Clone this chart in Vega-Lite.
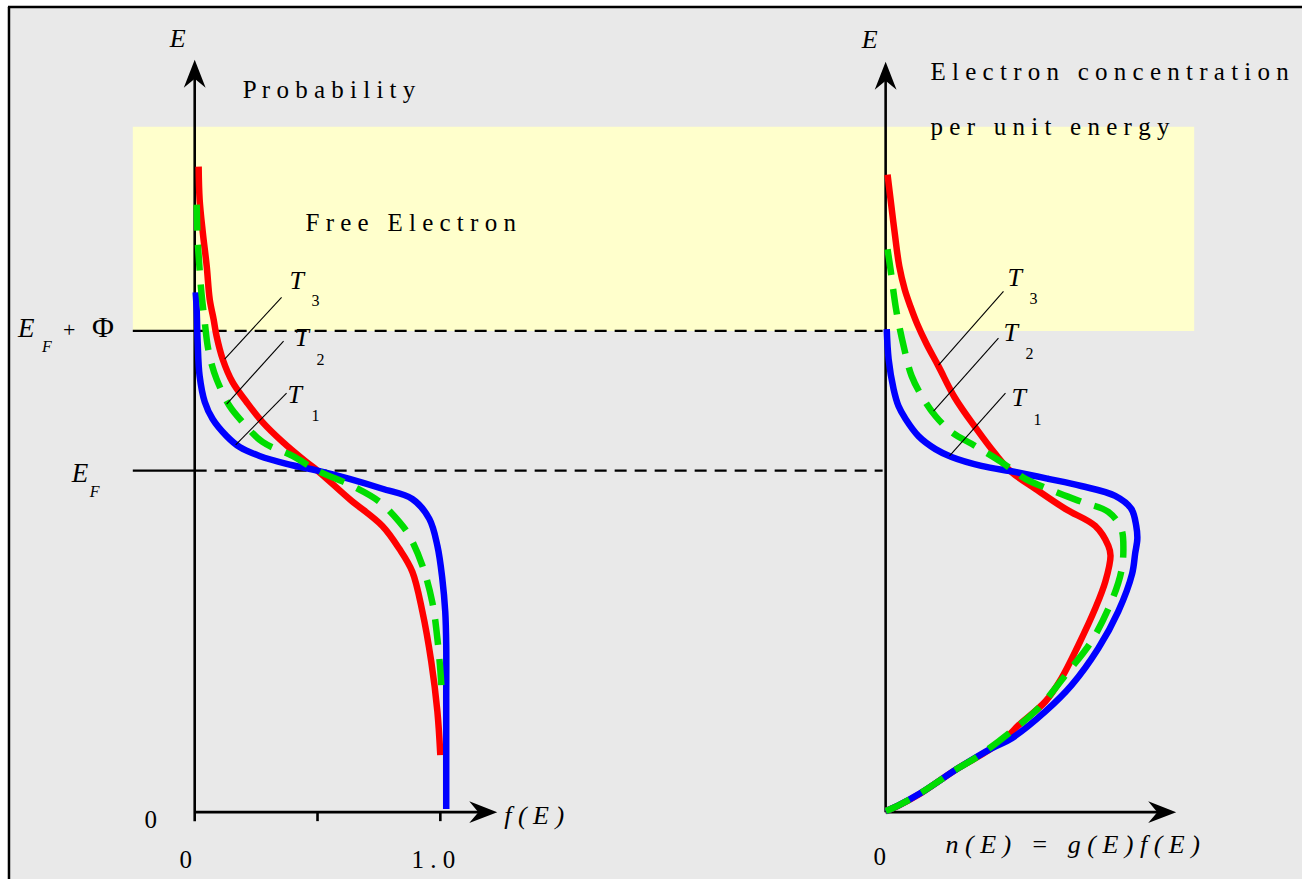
{
  "$schema": "https://vega.github.io/schema/vega-lite/v6.json",
  "width": 1304,
  "height": 881,
  "autosize": {"type": "fit", "contains": "padding"},
  "padding": 0,
  "background": "#ffffff",
  "config": {"view": {"stroke": null}, "font": "Liberation Serif", "text": {"font": "Liberation Serif", "color": "#000000"}},
  "datasets": {
    "left": [
      {"T":"T1","f":0.004,"E":1.522},{"T":"T1","f":0.008,"E":1.472},{"T":"T1","f":0.012,"E":1.376},{"T":"T1","f":0.020,"E":1.277},{"T":"T1","f":0.041,"E":1.201},{"T":"T1","f":0.073,"E":1.151},{"T":"T1","f":0.130,"E":1.101},{"T":"T1","f":0.183,"E":1.069},{"T":"T1","f":0.264,"E":1.043},{"T":"T1","f":0.374,"E":1.020},{"T":"T1","f":0.5,"E":1.0},{"T":"T1","f":0.630,"E":0.976},{"T":"T1","f":0.764,"E":0.947},{"T":"T1","f":0.886,"E":0.917},{"T":"T1","f":0.955,"E":0.859},{"T":"T1","f":0.988,"E":0.780},{"T":"T1","f":1.008,"E":0.684},{"T":"T1","f":1.020,"E":0.587},{"T":"T1","f":1.024,"E":0.488},{"T":"T1","f":1.024,"E":0.333},{"T":"T1","f":1.024,"E":0.158},{"T":"T1","f":1.024,"E":0.009},
      {"T":"T2","f":0.008,"E":1.779},{"T":"T2","f":0.012,"E":1.677},{"T":"T2","f":0.020,"E":1.589},{"T":"T2","f":0.028,"E":1.516},{"T":"T2","f":0.041,"E":1.434},{"T":"T2","f":0.053,"E":1.364},{"T":"T2","f":0.069,"E":1.312},{"T":"T2","f":0.089,"E":1.268},{"T":"T2","f":0.142,"E":1.189},{"T":"T2","f":0.195,"E":1.142},{"T":"T2","f":0.276,"E":1.084},{"T":"T2","f":0.398,"E":1.043},{"T":"T2","f":0.5,"E":1.0},{"T":"T2","f":0.642,"E":0.955},{"T":"T2","f":0.752,"E":0.909},{"T":"T2","f":0.833,"E":0.850},{"T":"T2","f":0.874,"E":0.809},{"T":"T2","f":0.927,"E":0.722},{"T":"T2","f":0.967,"E":0.616},{"T":"T2","f":0.988,"E":0.508},{"T":"T2","f":1.004,"E":0.371},{"T":"T2","f":1.004,"E":0.339},
      {"T":"T3","f":0.016,"E":1.890},{"T":"T3","f":0.020,"E":1.794},{"T":"T3","f":0.033,"E":1.697},{"T":"T3","f":0.049,"E":1.598},{"T":"T3","f":0.061,"E":1.502},{"T":"T3","f":0.077,"E":1.443},{"T":"T3","f":0.089,"E":1.394},{"T":"T3","f":0.114,"E":1.326},{"T":"T3","f":0.154,"E":1.259},{"T":"T3","f":0.211,"E":1.201},{"T":"T3","f":0.276,"E":1.142},{"T":"T3","f":0.358,"E":1.084},{"T":"T3","f":0.455,"E":1.025},{"T":"T3","f":0.5,"E":1.0},{"T":"T3","f":0.630,"E":0.917},{"T":"T3","f":0.764,"E":0.838},{"T":"T3","f":0.833,"E":0.771},{"T":"T3","f":0.886,"E":0.704},{"T":"T3","f":0.927,"E":0.587},{"T":"T3","f":0.963,"E":0.441},{"T":"T3","f":0.988,"E":0.295},{"T":"T3","f":1.0,"E":0.167}
    ],
    "right": [
      {"T":"T1","n":0.004,"E":1.414},{"T":"T1","n":0.011,"E":1.326},{"T":"T1","n":0.029,"E":1.239},{"T":"T1","n":0.047,"E":1.189},{"T":"T1","n":0.073,"E":1.151},{"T":"T1","n":0.120,"E":1.101},{"T":"T1","n":0.182,"E":1.063},{"T":"T1","n":0.241,"E":1.040},{"T":"T1","n":0.350,"E":1.014},{"T":"T1","n":0.474,"E":0.996},{"T":"T1","n":0.595,"E":0.976},{"T":"T1","n":0.715,"E":0.955},{"T":"T1","n":0.839,"E":0.926},{"T":"T1","n":0.898,"E":0.888},{"T":"T1","n":0.916,"E":0.838},{"T":"T1","n":0.920,"E":0.800},{"T":"T1","n":0.912,"E":0.757},{"T":"T1","n":0.901,"E":0.698},{"T":"T1","n":0.850,"E":0.587},{"T":"T1","n":0.777,"E":0.479},{"T":"T1","n":0.679,"E":0.371},{"T":"T1","n":0.584,"E":0.295},{"T":"T1","n":0.460,"E":0.216},{"T":"T1","n":0.387,"E":0.187},{"T":"T1","n":0.266,"E":0.129},{"T":"T1","n":0.128,"E":0.056},{"T":"T1","n":0.047,"E":0.020},{"T":"T1","n":0.0,"E":0.003},
      {"T":"T2","n":0.007,"E":1.648},{"T":"T2","n":0.018,"E":1.589},{"T":"T2","n":0.029,"E":1.522},{"T":"T2","n":0.040,"E":1.464},{"T":"T2","n":0.066,"E":1.364},{"T":"T2","n":0.095,"E":1.277},{"T":"T2","n":0.139,"E":1.209},{"T":"T2","n":0.182,"E":1.160},{"T":"T2","n":0.241,"E":1.113},{"T":"T2","n":0.328,"E":1.072},{"T":"T2","n":0.423,"E":1.025},{"T":"T2","n":0.474,"E":0.996},{"T":"T2","n":0.511,"E":0.976},{"T":"T2","n":0.620,"E":0.938},{"T":"T2","n":0.715,"E":0.909},{"T":"T2","n":0.814,"E":0.879},{"T":"T2","n":0.861,"E":0.830},{"T":"T2","n":0.869,"E":0.771},{"T":"T2","n":0.861,"E":0.704},{"T":"T2","n":0.825,"E":0.616},{"T":"T2","n":0.752,"E":0.500},{"T":"T2","n":0.668,"E":0.412},{"T":"T2","n":0.558,"E":0.304},{"T":"T2","n":0.460,"E":0.237},{"T":"T2","n":0.339,"E":0.164},{"T":"T2","n":0.266,"E":0.129},{"T":"T2","n":0.128,"E":0.056},{"T":"T2","n":0.047,"E":0.020},{"T":"T2","n":0.0,"E":0.003},
      {"T":"T3","n":0.007,"E":1.867},{"T":"T3","n":0.018,"E":1.794},{"T":"T3","n":0.033,"E":1.697},{"T":"T3","n":0.050,"E":1.598},{"T":"T3","n":0.070,"E":1.530},{"T":"T3","n":0.091,"E":1.480},{"T":"T3","n":0.115,"E":1.430},{"T":"T3","n":0.150,"E":1.370},{"T":"T3","n":0.193,"E":1.306},{"T":"T3","n":0.252,"E":1.215},{"T":"T3","n":0.332,"E":1.122},{"T":"T3","n":0.401,"E":1.049},{"T":"T3","n":0.460,"E":0.996},{"T":"T3","n":0.547,"E":0.947},{"T":"T3","n":0.657,"E":0.888},{"T":"T3","n":0.766,"E":0.838},{"T":"T3","n":0.814,"E":0.780},{"T":"T3","n":0.822,"E":0.751},{"T":"T3","n":0.803,"E":0.675},{"T":"T3","n":0.766,"E":0.596},{"T":"T3","n":0.704,"E":0.488},{"T":"T3","n":0.642,"E":0.391},{"T":"T3","n":0.584,"E":0.324},{"T":"T3","n":0.485,"E":0.254},{"T":"T3","n":0.449,"E":0.225},{"T":"T3","n":0.376,"E":0.181},{"T":"T3","n":0.259,"E":0.126},{"T":"T3","n":0.124,"E":0.053},{"T":"T3","n":0.044,"E":0.018},{"T":"T3","n":0.0,"E":0.003}
    ]
  },
  "encoding": {
    "y": {"field": "E", "type": "quantitative", "scale": {"domain": [-0.1957, 2.378], "nice": false, "zero": false}, "axis": null}
  },
  "resolve": {"scale": {"x": "independent"}},
  "layer": [
    {
      "encoding": {"x": {"field": "u", "type": "quantitative", "scale": {"domain": [0, 1], "nice": false, "zero": false}, "axis": null}},
      "layer": [
        {
          "data": {"values": [{"u": 0.0069, "u2": 1, "E": -0.1957, "E2": 2.3576}]},
          "mark": {"type": "rect", "color": "#e9e9e9"},
          "encoding": {"x2": {"field": "u2"}, "y2": {"field": "E2"}}
        },
        {
          "data": {"values": [{"u": 0.102, "u2": 0.9172, "E": 1.409, "E2": 2.007}]},
          "mark": {"type": "rect", "color": "#ffffcc"},
          "encoding": {"x2": {"field": "u2"}, "y2": {"field": "E2"}}
        },
        {
          "data": {"values": [
            {"u": 0.0061, "u2": 1, "E": 2.3576, "E2": 2.3576},
            {"u": 0.0069, "u2": 0.0069, "E": -0.1957, "E2": 2.3576}
          ]},
          "mark": {"type": "rule", "color": "#000000", "strokeWidth": 2.5},
          "encoding": {"x2": {"field": "u2"}, "y2": {"field": "E2"}}
        },
        {
          "data": {"values": [
            {"u": 0.102, "u2": 0.1495, "E": 1.0, "E2": 1.0},
            {"u": 0.102, "u2": 0.1495, "E": 1.409, "E2": 1.409}
          ]},
          "mark": {"type": "rule", "color": "#000000", "strokeWidth": 2.2},
          "encoding": {"x2": {"field": "u2"}, "y2": {"field": "E2"}}
        },
        {
          "data": {"values": [
            {"u": 0.1495, "u2": 0.6779, "E": 1.0, "E2": 1.0},
            {"u": 0.1495, "u2": 0.6779, "E": 1.409, "E2": 1.409}
          ]},
          "mark": {"type": "rule", "color": "#000000", "strokeWidth": 2.2, "strokeDash": [12, 8]},
          "encoding": {"x2": {"field": "u2"}, "y2": {"field": "E2"}}
        },
        {
          "data": {"values": [{"t": "E", "u": 0.0138, "E": 1.3906}, {"t": "E", "u": 0.0552, "E": 0.967}]},
          "mark": {"type": "text", "font": "Liberation Serif", "align": "left", "baseline": "alphabetic", "fontSize": 27, "fontStyle": "italic"},
          "encoding": {"text": {"field": "t"}}
        },
        {
          "data": {"values": [{"t": "F", "u": 0.0322, "E": 1.3468}, {"t": "F", "u": 0.069, "E": 0.9232}]},
          "mark": {"type": "text", "font": "Liberation Serif", "align": "left", "baseline": "alphabetic", "fontSize": 16, "fontStyle": "italic"},
          "encoding": {"text": {"field": "t"}}
        },
        {
          "data": {"values": [{"t": "+", "u": 0.0483, "E": 1.3906}]},
          "mark": {"type": "text", "font": "Liberation Serif", "align": "left", "baseline": "alphabetic", "fontSize": 22},
          "encoding": {"text": {"field": "t"}}
        },
        {
          "data": {"values": [{"t": "Φ", "u": 0.0706, "E": 1.3906}]},
          "mark": {"type": "text", "font": "Liberation Serif", "align": "left", "baseline": "alphabetic", "fontSize": 30},
          "encoding": {"text": {"field": "t"}}
        },
        {
          "data": {"values": [{"t": "0", "u": 0.1158, "E": -0.0467}]},
          "mark": {"type": "text", "font": "Liberation Serif", "align": "center", "baseline": "alphabetic", "fontSize": 25},
          "encoding": {"text": {"field": "t"}}
        }
      ]
    },
    {
      "encoding": {"x": {"field": "f", "type": "quantitative", "scale": {"domain": [-0.7927, 4.5081], "nice": false, "zero": false}, "axis": null}},
      "layer": [
        {
          "data": {"values": [
            {"f": 0, "f2": 0, "E": -0.0263, "E2": 2.159},
            {"f": 0, "f2": 1.1707, "E": 0, "E2": 0},
            {"f": 0.5, "f2": 0.5, "E": 0, "E2": -0.0263},
            {"f": 1.0, "f2": 1.0, "E": 0, "E2": -0.0263}
          ]},
          "mark": {"type": "rule", "color": "#000000", "strokeWidth": 2.6},
          "encoding": {"x2": {"field": "f2"}, "y2": {"field": "E2"}}
        },
        {
          "data": {"values": [{"f": 0, "E": 2.2028}]},
          "mark": {"type": "point", "shape": "M0,0L0.78,2L0,1.35L-0.78,2Z", "filled": true, "size": 784, "color": "#000000", "opacity": 1, "strokeWidth": 0},
          "encoding": {}
        },
        {
          "data": {"values": [{"f": 1.2317, "E": 0}]},
          "mark": {"type": "point", "shape": "M0,0L-2,0.78L-1.35,0L-2,-0.78Z", "filled": true, "size": 784, "color": "#000000", "opacity": 1, "strokeWidth": 0},
          "encoding": {}
        },
        {
          "data": {"name": "left"},
          "transform": [{"filter": "datum.T == 'T3'"}],
          "mark": {"type": "line", "color": "#ff0000", "strokeWidth": 6.5, "strokeJoin": "round", "interpolate": "catmull-rom"},
          "encoding": {"order": {"value": null}}
        },
        {
          "data": {"name": "left"},
          "transform": [{"filter": "datum.T == 'T1'"}],
          "mark": {"type": "line", "color": "#0000ff", "strokeWidth": 6.5, "strokeJoin": "round", "interpolate": "catmull-rom"},
          "encoding": {"order": {"value": null}}
        },
        {
          "data": {"name": "left"},
          "transform": [{"filter": "datum.T == 'T2'"}],
          "mark": {"type": "line", "color": "#00dd00", "strokeWidth": 6.5, "strokeJoin": "round", "strokeDash": [26, 14], "interpolate": "catmull-rom"},
          "encoding": {"order": {"value": null}}
        },
        {
          "data": {"values": [
            {"f": 0.3537, "f2": 0.122, "E": 1.5075, "E2": 1.3263},
            {"f": 0.3618, "f2": 0.1301, "E": 1.3789, "E2": 1.1949},
            {"f": 0.374, "f2": 0.1667, "E": 1.227, "E2": 1.0751}
          ]},
          "mark": {"type": "rule", "color": "#000000", "strokeWidth": 1.1},
          "encoding": {"x2": {"field": "f2"}, "y2": {"field": "E2"}}
        },
        {
          "data": {"values": [
            {"t": "P r o b a b i l i t y", "f": 0.1951, "E": 2.0917},
            {"t": "F r e e \u00a0 E l e c t r o n", "f": 0.4512, "E": 1.7003}
          ]},
          "mark": {"type": "text", "font": "Liberation Serif", "align": "left", "baseline": "alphabetic", "fontSize": 25},
          "encoding": {"text": {"field": "t"}}
        },
        {
          "data": {"values": [
            {"t": "E", "f": -0.1016, "E": 2.2407},
            {"t": "T", "f": 0.3862, "E": 1.5308},
            {"t": "T", "f": 0.4065, "E": 1.3643},
            {"t": "T", "f": 0.378, "E": 1.1978},
            {"t": "f ( E )", "f": 1.2602, "E": -0.0351}
          ]},
          "mark": {"type": "text", "font": "Liberation Serif", "align": "left", "baseline": "alphabetic", "fontSize": 26, "fontStyle": "italic"},
          "encoding": {"text": {"field": "t"}}
        },
        {
          "data": {"values": [
            {"t": "3", "f": 0.4756, "E": 1.4812},
            {"t": "2", "f": 0.4959, "E": 1.3088},
            {"t": "1", "f": 0.4756, "E": 1.1452}
          ]},
          "mark": {"type": "text", "font": "Liberation Serif", "align": "left", "baseline": "alphabetic", "fontSize": 16},
          "encoding": {"text": {"field": "t"}}
        },
        {
          "data": {"values": [
            {"t": "0", "f": -0.0366, "E": -0.1636},
            {"t": "1 . 0", "f": 0.9715, "E": -0.1636}
          ]},
          "mark": {"type": "text", "font": "Liberation Serif", "align": "center", "baseline": "alphabetic", "fontSize": 25},
          "encoding": {"text": {"field": "t"}}
        }
      ]
    },
    {
      "encoding": {"x": {"field": "n", "type": "quantitative", "scale": {"domain": [-3.2372, 1.5219], "nice": false, "zero": false}, "axis": null}},
      "layer": [
        {
          "data": {"values": [
            {"n": 0, "n2": 0, "E": 0, "E2": 2.153},
            {"n": 0, "n2": 1.0073, "E": 0, "E2": 0}
          ]},
          "mark": {"type": "rule", "color": "#000000", "strokeWidth": 2.6},
          "encoding": {"x2": {"field": "n2"}, "y2": {"field": "E2"}}
        },
        {
          "data": {"values": [{"n": 0, "E": 2.197}]},
          "mark": {"type": "point", "shape": "M0,0L0.78,2L0,1.35L-0.78,2Z", "filled": true, "size": 784, "color": "#000000", "opacity": 1, "strokeWidth": 0},
          "encoding": {}
        },
        {
          "data": {"values": [{"n": 1.062, "E": 0}]},
          "mark": {"type": "point", "shape": "M0,0L-2,0.78L-1.35,0L-2,-0.78Z", "filled": true, "size": 784, "color": "#000000", "opacity": 1, "strokeWidth": 0},
          "encoding": {}
        },
        {
          "data": {"name": "right"},
          "transform": [{"filter": "datum.T == 'T3'"}],
          "mark": {"type": "line", "color": "#ff0000", "strokeWidth": 6.5, "strokeJoin": "round", "interpolate": "catmull-rom"},
          "encoding": {"order": {"value": null}}
        },
        {
          "data": {"name": "right"},
          "transform": [{"filter": "datum.T == 'T1'"}],
          "mark": {"type": "line", "color": "#0000ff", "strokeWidth": 6.5, "strokeJoin": "round", "interpolate": "catmull-rom"},
          "encoding": {"order": {"value": null}}
        },
        {
          "data": {"name": "right"},
          "transform": [{"filter": "datum.T == 'T2'"}],
          "mark": {"type": "line", "color": "#00dd00", "strokeWidth": 6.5, "strokeJoin": "round", "strokeDash": [26, 14], "interpolate": "catmull-rom"},
          "encoding": {"order": {"value": null}}
        },
        {
          "data": {"values": [
            {"n": 0.4307, "n2": 0.1934, "E": 1.525, "E2": 1.3088},
            {"n": 0.4124, "n2": 0.1752, "E": 1.3877, "E2": 1.1744},
            {"n": 0.438, "n2": 0.2336, "E": 1.227, "E2": 1.043}
          ]},
          "mark": {"type": "rule", "color": "#000000", "strokeWidth": 1.1},
          "encoding": {"x2": {"field": "n2"}, "y2": {"field": "E2"}}
        },
        {
          "data": {"values": [
            {"t": "E l e c t r o n \u00a0 c o n c e n t r a t i o n", "n": 0.1642, "E": 2.1443},
            {"t": "p e r \u00a0 u n i t \u00a0 e n e r g y", "n": 0.1642, "E": 1.9836}
          ]},
          "mark": {"type": "text", "font": "Liberation Serif", "align": "left", "baseline": "alphabetic", "fontSize": 25},
          "encoding": {"text": {"field": "t"}}
        },
        {
          "data": {"values": [
            {"t": "E", "n": -0.0876, "E": 2.2378},
            {"t": "T", "n": 0.4453, "E": 1.5396},
            {"t": "T", "n": 0.4307, "E": 1.3789},
            {"t": "T", "n": 0.4599, "E": 1.189},
            {"t": "n ( E ) \u00a0 = \u00a0 g ( E ) f ( E )", "n": 0.219, "E": -0.1198}
          ]},
          "mark": {"type": "text", "font": "Liberation Serif", "align": "left", "baseline": "alphabetic", "fontSize": 26, "fontStyle": "italic"},
          "encoding": {"text": {"field": "t"}}
        },
        {
          "data": {"values": [
            {"t": "3", "n": 0.5255, "E": 1.487},
            {"t": "2", "n": 0.5109, "E": 1.3263},
            {"t": "1", "n": 0.5401, "E": 1.1335}
          ]},
          "mark": {"type": "text", "font": "Liberation Serif", "align": "left", "baseline": "alphabetic", "fontSize": 16},
          "encoding": {"text": {"field": "t"}}
        },
        {
          "data": {"values": [{"t": "0", "n": -0.0219, "E": -0.1548}]},
          "mark": {"type": "text", "font": "Liberation Serif", "align": "center", "baseline": "alphabetic", "fontSize": 25},
          "encoding": {"text": {"field": "t"}}
        }
      ]
    }
  ]
}
